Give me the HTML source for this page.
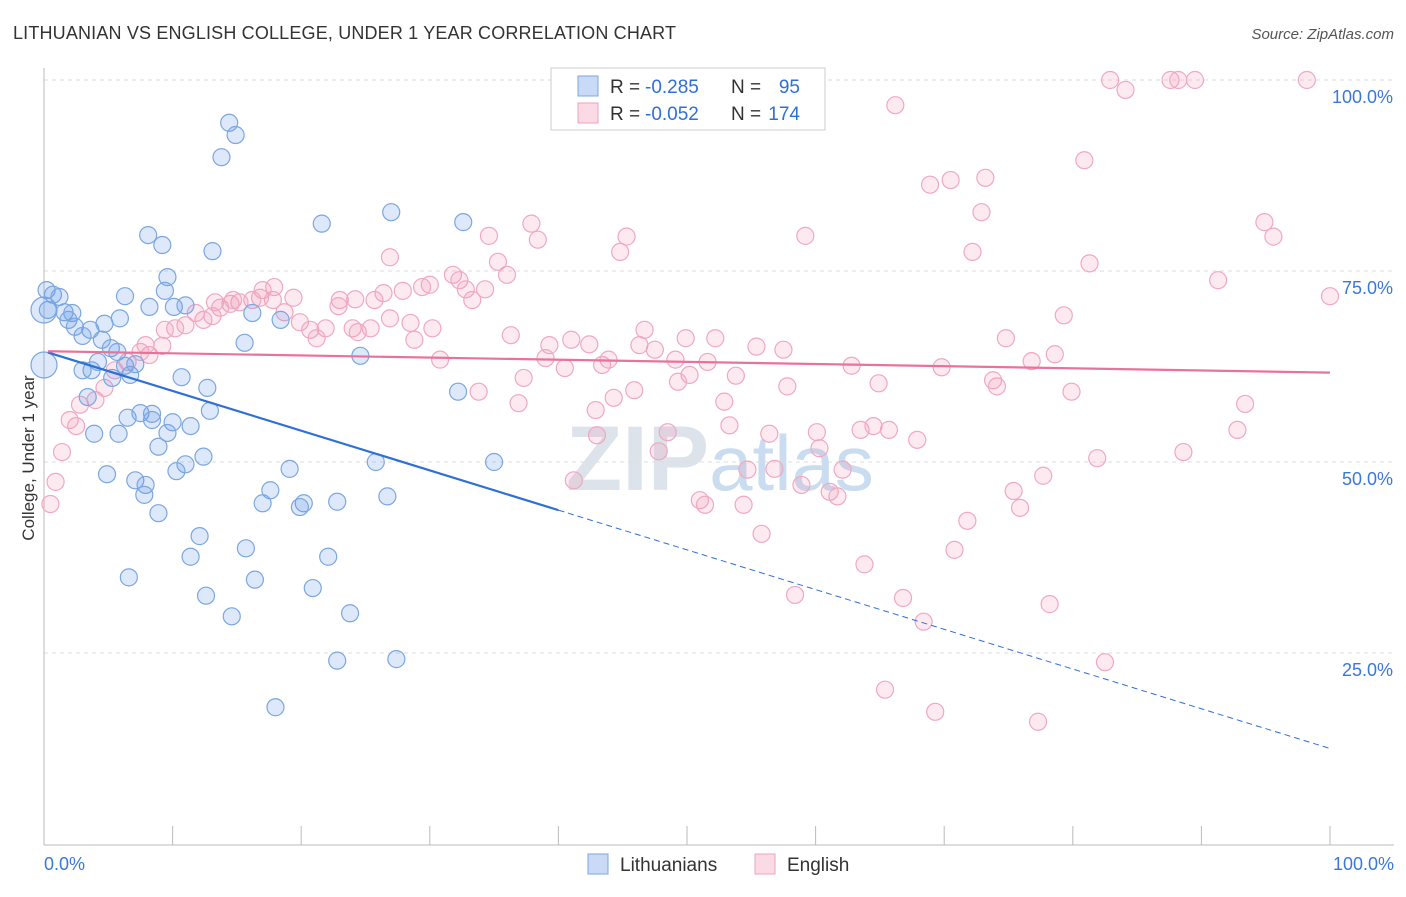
<!DOCTYPE html>
<html><head><meta charset="utf-8"><style>
body{margin:0;background:#fff;font-family:"Liberation Sans",sans-serif;}
svg text{font-family:"Liberation Sans",sans-serif;}
</style></head><body>
<svg id="chart" width="1406" height="892" xmlns="http://www.w3.org/2000/svg">
<text x="13" y="39" font-size="18" fill="#333" textLength="663">LITHUANIAN VS ENGLISH COLLEGE, UNDER 1 YEAR CORRELATION CHART</text>
<text x="1394" y="39" font-size="15" fill="#555" text-anchor="end" font-style="italic">Source: ZipAtlas.com</text>
<text x="720" y="490" font-size="92" fill="#dde3ea" text-anchor="middle" font-family="Liberation Serif" font-weight="bold">ZIP<tspan fill="#c9dcf0" font-family="Liberation Sans" font-weight="normal" font-size="78">atlas</tspan></text>
<g id="grid"></g><g id="axes"></g><g id="pts"></g><g id="trends"></g>
<text transform="translate(34,458) rotate(-90)" font-size="17" fill="#333" text-anchor="middle">College, Under 1 year</text>
<g>
<rect x="551" y="68" width="274" height="62" fill="#fff" stroke="#ccc"/>
<rect x="578" y="76" width="20" height="20" fill="rgba(100,150,230,0.35)" stroke="#7ba7e0"/>
<rect x="578" y="103" width="20" height="20" fill="rgba(240,150,180,0.35)" stroke="#f0a0bc"/>
<text x="610" y="93" font-size="19" fill="#333">R =</text>
<text x="645" y="93" font-size="19" fill="#2f6fd6">-0.285</text>
<text x="731" y="93" font-size="19" fill="#333">N =</text>
<text x="800" y="93" font-size="19" fill="#2f6fd6" text-anchor="end">95</text>
<text x="610" y="120" font-size="19" fill="#333">R =</text>
<text x="645" y="120" font-size="19" fill="#2f6fd6">-0.052</text>
<text x="731" y="120" font-size="19" fill="#333">N =</text>
<text x="800" y="120" font-size="19" fill="#2f6fd6" text-anchor="end">174</text>
</g>
<g>
<rect x="588" y="854" width="20" height="20" fill="rgba(100,150,230,0.35)" stroke="#7ba7e0"/>
<text x="620" y="871" font-size="19" fill="#333">Lithuanians</text>
<rect x="755" y="854" width="20" height="20" fill="rgba(240,150,180,0.35)" stroke="#f0a0bc"/>
<text x="787" y="871" font-size="19" fill="#333">English</text>
</g>
</svg>
<script>
const yTicks=[25,50,75,100];
const yTickLabels=["25.0%","50.0%","75.0%","100.0%"];
const xTickLabels=["0.0%","100.0%"];
const blueX=[14.4,14.9,13.8,8.1,9.2,13.1,21.6,27.0,32.6,9.6,6.3,9.4,8.2,10.1,11.0,16.2,18.4,0.2,0.7,1.2,0.3,1.6,2.2,1.9,2.4,3.6,3.0,4.7,5.9,4.5,5.2,5.7,6.3,6.7,3.7,4.2,3.0,5.3,15.6,24.6,7.1,10.7,12.7,3.4,6.5,7.5,8.4,8.4,10.0,11.4,12.9,3.9,5.8,9.6,8.9,11.0,12.4,32.2,25.8,35.0,4.9,7.1,7.9,7.8,10.3,19.1,17.6,17.0,20.2,19.9,22.8,26.7,8.9,12.1,11.4,15.7,22.1,6.6,16.4,20.9,12.6,14.6,23.8,22.8,27.4,18.0,0,0];
const blueY=[94.4,92.8,89.9,79.7,78.4,77.6,81.2,82.7,81.4,74.2,71.7,72.4,70.3,70.3,70.5,69.5,68.6,72.5,71.9,71.6,69.9,69.6,69.5,68.6,67.7,67.3,66.5,68.1,68.8,66.0,64.9,64.4,62.6,61.4,62.0,63.1,62.0,61.0,65.6,63.9,62.8,61.1,59.7,58.5,55.8,56.4,56.3,55.5,55.2,54.7,56.7,53.7,53.7,53.8,52.0,49.7,50.7,59.2,50.0,50.0,48.4,47.6,47.0,45.7,48.8,49.1,46.3,44.6,44.6,44.1,44.8,45.5,43.3,40.3,37.6,38.7,37.6,34.9,34.6,33.5,32.5,29.8,30.2,24.0,24.2,17.9,62.7,69.9];
const pinkX=[82.9,84.1,87.6,88.2,89.5,98.2,66.2,80.9,68.9,70.5,73.2,72.9,94.9,95.6,59.2,72.2,81.3,91.3,100,37.9,34.6,38.4,44.8,45.3,26.9,31.8,35.3,36.0,32.3,32.8,33.3,34.3,30.0,29.4,27.9,26.4,25.7,23.0,22.9,24.2,19.4,17.9,17.0,16.8,16.2,15.2,14.5,13.7,13.1,12.4,11.8,11.0,10.2,9.4,9.2,8.2,7.9,13.3,14.7,17.8,19.9,18.7,20.7,21.9,21.2,24.0,24.4,25.4,26.9,28.5,30.2,28.8,36.3,39.3,41.0,42.4,46.7,46.3,47.5,49.9,52.2,55.4,57.5,74.8,79.3,39.0,40.5,43.4,43.9,49.1,51.6,50.2,49.3,53.8,57.8,62.8,64.9,69.8,73.8,74.1,76.8,78.6,79.9,45.9,44.3,42.9,37.3,36.9,33.8,30.8,52.9,53.3,56.4,60.1,60.3,63.5,64.5,65.7,67.9,48.5,47.8,54.7,56.8,58.9,62.1,61.1,61.7,51.0,51.4,54.4,55.8,71.8,75.4,75.9,77.7,81.9,88.6,92.8,93.4,63.8,66.8,70.8,68.4,58.4,78.2,65.4,69.3,77.3,82.5,0.5,0.9,1.4,2.0,2.5,2.8,4.0,4.7,5.5,6.5,7.5,41.2,43.0];
const pinkY=[100,98.7,100,100,100,100,96.7,89.5,86.3,86.9,87.2,82.7,81.4,79.5,79.6,77.5,76.0,73.8,71.7,81.2,79.6,79.1,77.5,79.5,76.8,74.5,76.2,74.5,73.8,72.6,71.2,72.6,73.2,72.9,72.4,72.1,71.2,71.2,70.4,71.3,71.5,72.9,72.5,71.5,71.2,70.9,70.7,70.2,69.1,68.6,69.5,67.9,67.5,67.3,65.2,64.0,65.3,70.9,71.2,71.2,68.3,69.6,67.3,67.5,66.2,67.5,67.0,67.5,68.8,68.2,67.5,66.0,66.6,65.3,66.0,65.4,67.3,65.3,64.7,66.2,66.2,65.1,64.7,66.2,69.2,63.6,62.3,62.7,63.4,63.4,63.1,61.4,60.5,61.3,59.9,62.6,60.3,62.4,60.7,59.9,63.2,64.1,59.2,59.4,58.4,56.8,61.0,57.7,59.2,63.4,57.9,54.8,53.7,53.9,51.8,54.2,54.7,54.2,52.9,53.9,51.4,49.0,49.1,47.0,49.0,46.1,45.5,45.0,44.4,44.4,40.6,42.3,46.2,44.0,48.2,50.5,51.3,54.2,57.6,36.6,32.2,38.5,29.1,32.6,31.4,20.2,17.3,16.0,23.8,44.5,47.4,51.3,55.5,54.7,57.5,58.1,59.7,62.0,63.1,64.4,47.6,53.5];
const blueTrend=[64.5,12.5];
const pinkTrend=[64.5,61.7];
const blueSolidEnd=40;

const NS="http://www.w3.org/2000/svg";
const X=v=>44+v*12.86, Y=v=>844-v*7.64;
function mk(tag,attrs,parent){const e=document.createElementNS(NS,tag);for(const k in attrs)e.setAttribute(k,attrs[k]);parent.appendChild(e);return e;}
const grid=document.getElementById('grid'),axes=document.getElementById('axes'),pts=document.getElementById('pts'),tr=document.getElementById('trends');
yTicks.forEach((t,i)=>{
 const l=mk('line',{x1:44,x2:1394,y1:Y(t),y2:Y(t),stroke:'#ddd','stroke-dasharray':'4,4'},grid);
 
 
 const tx=mk('text',{x:1393,y:Y(t)+23,'font-size':18,fill:'#3a78d8','text-anchor':'end'},grid);
 tx.textContent=yTickLabels[i];
 
 
});
const ax=mk('line',{x1:44,x2:1394,y1:845,y2:845,stroke:'#bbb'},axes);


const ay=mk('line',{x1:44,x2:44,y1:68,y2:845,stroke:'#bbb'},axes);


for(let i=0;i<=10;i++){const t=mk('line',{x1:X(i*10),x2:X(i*10),y1:826,y2:845,stroke:'#bbb'},axes);
 
 }
[[0,'start',44],[1,'end',1394]].forEach(([i,a,x])=>{const t=mk('text',{x:x,y:870,'font-size':18,fill:'#3a78d8','text-anchor':a},axes);t.textContent=xTickLabels[i];
 
 });
pinkX.forEach((v,i)=>{const c=mk('circle',{cx:X(v),cy:Y(pinkY[i]),r:8.5,fill:'rgba(240,150,180,0.2)',stroke:'#f0a8c0','stroke-width':1.2},pts);
 
 });
blueX.forEach((v,i)=>{const c=mk('circle',{cx:X(v),cy:Y(blueY[i]),r:(i>=blueX.length-2?13:8.5),fill:'rgba(100,150,230,0.22)',stroke:'#7ba7e0','stroke-width':1.2},pts);
 
 });
const by=x=>blueTrend[0]+(blueTrend[1]-blueTrend[0])*x/100;
const b1=mk('line',{x1:X(0.3),y1:Y(by(0.3)),x2:X(blueSolidEnd),y2:Y(by(blueSolidEnd)),stroke:'#2f6fd6','stroke-width':2.2},tr);


const b2=mk('line',{x1:X(blueSolidEnd),y1:Y(by(blueSolidEnd)),x2:X(100),y2:Y(by(100)),stroke:'#2f6fd6','stroke-width':1,'stroke-dasharray':'6,4'},tr);


const p1=mk('line',{x1:X(0.3),y1:Y(pinkTrend[0]),x2:X(100),y2:Y(pinkTrend[1]),stroke:'#e8739a','stroke-width':2.2},tr);


</script>
</body></html>
